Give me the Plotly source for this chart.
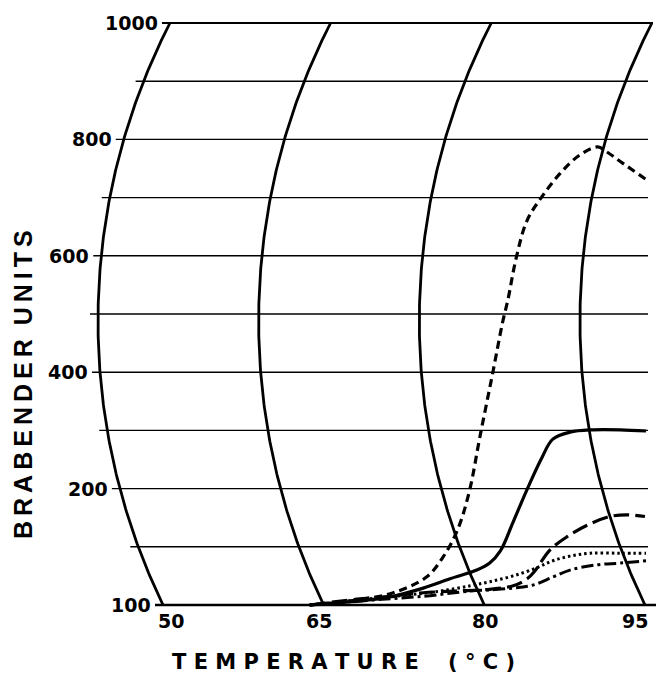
import numpy as np
import plotly.graph_objects as go

# ---------------- data ----------------
temp_ticks = [50, 65, 80, 95]
temp_labels = ["50", "65", "80", "95"]
bu_grid = [0, 100, 200, 300, 400, 500, 600, 700, 800, 900, 1000]
bu_tickvals = [0, 200, 400, 600, 800, 1000]
bu_ticktext = ["100", "200", "400", "600", "800", "1000"]

shortdash_t = [63.7, 66.0, 68.3, 71.5, 74.6, 76.1, 77.5, 78.6, 79.6, 80.8, 81.7, 82.2, 83.0,
               84.0, 85.4, 87.1, 88.9, 90.6, 91.4, 92.7, 95.2]
shortdash_bu = [0, 4, 9, 21, 48, 81, 129, 195, 290, 400, 485, 524, 598,
                661, 702, 742, 773, 787, 779, 762, 730]

solid_t = [63.7, 68.4, 71.2, 74.3, 76.8, 79.3, 80.5, 81.5, 82.7, 84.1, 85.4, 86.4, 88.0, 90.1, 92.7, 95.1]
solid_bu = [0, 7, 14, 29, 45, 60, 72, 93, 143, 203, 254, 285, 297, 301, 301, 299]

longdash_t = [63.7, 68.1, 71.2, 74.3, 77.3, 80.5, 82.7, 84.0, 84.7, 86.1, 87.7, 89.6, 91.7, 93.3, 95.0]
longdash_bu = [0, 10, 15, 21, 24, 27, 33, 45, 58, 94, 117, 137, 152, 155, 152]

dotted_t = [63.7, 68.4, 72.8, 75.9, 78.7, 80.5, 82.7, 84.9, 86.4, 88.0, 89.9, 92.7, 95.1]
dotted_bu = [0, 9, 17, 24, 33, 40, 50, 64, 76, 84, 89, 89, 89]

dashdot_t = [63.7, 68.4, 74.3, 78.7, 80.5, 82.7, 84.5, 86.4, 88.0, 90.5, 92.7, 95.1]
dashdot_bu = [0, 7, 15, 24, 26, 29, 34, 48, 60, 69, 72, 76]

# ---------------- geometry of the chart paper ----------------
W, H = 656, 676
PX_PER_C = 10.71      # pixels per degree C along the baseline
PX_PER_BU = 0.582     # pixels per Brabender unit
X50_PX = 163          # pixel column of 50 C on the baseline
Y0_PX = 605           # pixel row of the baseline

x_range = [50 - X50_PX / PX_PER_C, 50 + (W - X50_PX) / PX_PER_C]
y_range = [(Y0_PX - H) / PX_PER_BU, Y0_PX / PX_PER_BU]

R_PX = 653.0          # radius of the recorder-pen arcs
BU_C = 488.0          # height of arc centre


def arc_dist(bu):
    dy = (np.asarray(bu, dtype=float) - BU_C) * PX_PER_BU
    return R_PX - np.sqrt(R_PX ** 2 - dy ** 2)


def arc_offset(bu):
    """horizontal offset (in C) of a temperature arc relative to its baseline position"""
    return -(arc_dist(0) - arc_dist(bu)) / PX_PER_C


def px(p):
    return p / PX_PER_C


fig = go.Figure()

# curved temperature lines
bu_arc = np.linspace(0, 1000, 201)
for t in temp_ticks:
    fig.add_trace(go.Scatter(x=t + arc_offset(bu_arc), y=bu_arc, mode="lines",
                             line=dict(color="black", width=2.8), hoverinfo="skip"))

# horizontal grid lines
x_right_default = 50 + px(648 - X50_PX)
for v in bu_grid:
    xs = 50 + arc_offset(v) - px(8)
    if v == 0:
        xe = 50 + px(W - X50_PX)
        w = 2.4
    elif v == 1000:
        xe = 50 + px(653 - X50_PX)
        w = 2.0
    else:
        xe = x_right_default
        w = 1.4
    fig.add_trace(go.Scatter(x=[xs, xe], y=[v, v], mode="lines",
                             line=dict(color="black", width=w), hoverinfo="skip"))

# amylogram curves
curves = [
    (shortdash_t, shortdash_bu, "8px,5px", 3.2),
    (solid_t, solid_bu, "solid", 3.2),
    (longdash_t, longdash_bu, "16px,6px", 3.2),
    (dotted_t, dotted_bu, "2.5px,3px", 3.0),
    (dashdot_t, dashdot_bu, "12px,4px,3px,4px", 3.0),
]
for xs, ys, dash, w in curves:
    fig.add_trace(go.Scatter(x=xs, y=ys, mode="lines",
                             line=dict(color="black", width=w, dash=dash, shape="spline", smoothing=1.0),
                             hoverinfo="skip"))

num_font = dict(family="DejaVu Sans", size=19, color="black", weight="bold")

# y tick labels, following the curved left edge
for v, txt in zip(bu_tickvals, bu_ticktext):
    fig.add_annotation(x=50 + arc_offset(v) - px(10), y=v, text=txt, showarrow=False,
                       xanchor="right", yanchor="middle", font=num_font)

# x tick labels
x_shifts = [8, -5, 1, -10]
for t, txt, sh in zip(temp_ticks, temp_labels, x_shifts):
    fig.add_annotation(x=t, y=(Y0_PX - 621) / PX_PER_BU, text=txt, showarrow=False,
                       xanchor="center", yanchor="middle", xshift=sh, font=num_font)

# axis titles
NB = "\u00a0"
TH = "\u2009"
xtitle = NB.join("TEMPERATURE") + NB * 4 + NB.join("(°C)")
fig.add_annotation(xref="paper", yref="paper", x=343 / W, y=1 - 662 / H, text=xtitle,
                   showarrow=False, xanchor="center", yanchor="middle",
                   font=dict(family="DejaVu Sans", size=21, color="black", weight="bold"))

ytitle = TH.join("BRABENDER") + NB * 2 + TH.join("UNITS")
fig.add_annotation(xref="paper", yref="paper", x=23 / W, y=1 - 385 / H, text=ytitle,
                   textangle=-90, showarrow=False, xanchor="center", yanchor="middle",
                   font=dict(family="Liberation Sans", size=25, color="black", weight="bold"))

fig.update_layout(
    width=W, height=H,
    margin=dict(l=0, r=0, t=0, b=0),
    paper_bgcolor="white", plot_bgcolor="white",
    showlegend=False,
    xaxis=dict(range=x_range, visible=False, fixedrange=True),
    yaxis=dict(range=y_range, visible=False, fixedrange=True),
)

fig.write_html("out.html")
